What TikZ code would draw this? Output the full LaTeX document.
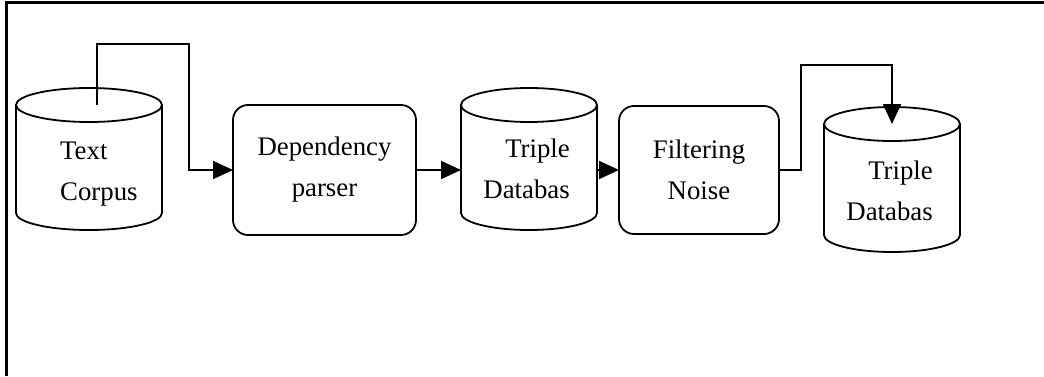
\documentclass[tikz,border=0pt]{standalone}
\usepackage{fontspec}
\setmainfont{Liberation Serif}
\usepackage{tikz}
\usetikzlibrary{positioning, arrows.meta}

\begin{document}
\begin{tikzpicture}[
            x=1pt, y=1pt,
            font=\fontsize{26.8pt}{41pt}\selectfont,
            stage/.style={draw, line width=1.8pt, rounded corners=15pt, align=center, inner sep=0pt, outer sep=0pt},
            store/.style={inner sep=0pt, outer sep=0pt},
            storetext/.style={inner sep=0pt},
            rim/.style={line width=1.8pt},
            arrow/.style={-{Triangle[length=20pt, width=18pt]}, line width=1.8pt},
            frame/.style={line width=2.5pt}
        ]
            \useasboundingbox (0,0) rectangle (1044,376);
            \draw[frame] (6.5,0) -- (6.5,373.5) -- (1044,373.5);

            % Stores and stages
            \node[store, minimum width=146pt, minimum height=142pt] at (89, 217) (corpus) {};
            \node[stage, minimum width=183pt, minimum height=130pt] at (324.5, 206) (parse) {Dependency\\parser};
            \node[store, minimum width=136pt, minimum height=142pt] at (529, 217) (triples) {};
            \node[stage, minimum width=160pt, minimum height=128pt] at (699, 206) (filter) {Filtering\\Noise};
            \node[store, minimum width=136pt, minimum height=145pt] at (892, 196.5) (clean) {};

            % Cylinder outlines
            \foreach \db/\rx in {corpus/73, triples/68, clean/68} {
                \draw[rim] ([yshift=-17pt]\db.north west) -- ([yshift=17pt]\db.south west)
                    arc[start angle=180, end angle=360, x radius=\rx, y radius=17] -- ([yshift=-17pt]\db.north east);
                \draw[rim] ([yshift=-17pt]\db.north) ellipse[x radius=\rx, y radius=17];
            }

            % Store labels (base = last line)
            \node[storetext, align=left, anchor=base west] at (60, 176) (corpustext) {Text\\Corpus};
            \node[storetext, align=right, anchor=base east] at (570, 178) (triplestext) {Triple\\Databas};
            \node[storetext, align=right, anchor=base east] at (933, 156) (cleantext) {Triple\\Databas};

            % Connectors
            \draw[arrow] ([xshift=8pt, yshift=-17pt]corpus.north) -- ++(0,61) -| ([xshift=-44pt]parse.west) -- (parse.west);
            \draw[arrow] (parse.east) -- (parse.east -| triples.west);
            \draw[arrow] (triples.east |- filter.west) -- (filter.west);
            \draw[arrow] (filter.east) -- ++(22,0) |- ([yshift=42pt]clean.north) -- ([yshift=-17pt]clean.north);

        \end{tikzpicture}
\end{document}
